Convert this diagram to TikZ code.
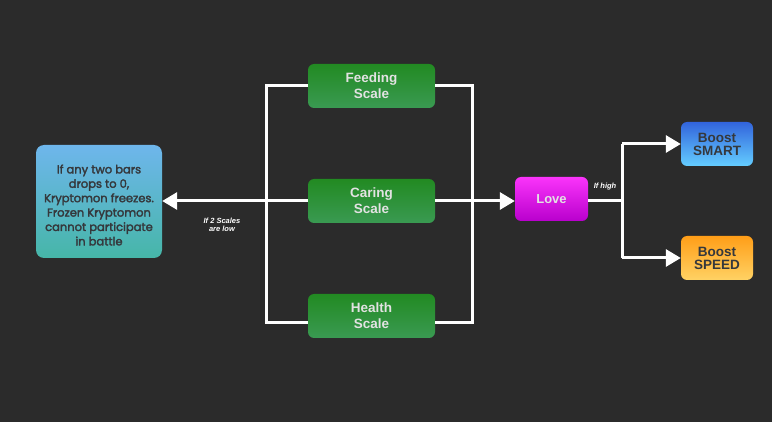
\documentclass[tikz,border=0pt]{standalone}
\usepackage{fontspec}
\setmainfont{Liberation Sans}
\newfontfamily\popfont[FakeBold=2.5]{Poppins}
\usetikzlibrary{arrows.meta}
\definecolor{bgc}{HTML}{2B2B2B}
\definecolor{txtdark}{HTML}{35383C}
\definecolor{txtlight}{HTML}{E2E2E2}
\tikzset{
  box/.style={rounded corners=6pt, minimum height=44pt, align=center, inner sep=0pt, font=\bfseries},
  greenbox/.style={box, minimum width=127pt, top color={rgb,255:red,34;green,138;blue,34}, bottom color={rgb,255:red,58;green,154;blue,82}, text=txtlight, font=\fontsize{13.5}{16}\selectfont\bfseries},
  wire/.style={draw=white, line width=3pt},
  arr/.style={wire, -{Triangle[length=15pt,width=17pt]}},
  lbl/.style={text=white, font=\fontsize{7.5}{8}\selectfont\bfseries\itshape, align=center, inner sep=0pt}
}
\begin{document}
\begin{tikzpicture}[x=1pt,y=-1pt]
\fill[bgc] (0,0) rectangle (772,422);
\useasboundingbox (0,0) rectangle (772,422);
% boxes
\node[box, rounded corners=8pt, minimum width=126pt, minimum height=113pt, top color={rgb,255:red,110;green,182;blue,236}, bottom color={rgb,255:red,70;green,182;blue,168}, text=txtdark, font=\popfont\fontsize{11.5}{14.4}\selectfont] (info) at (99,201.5) {\raisebox{-8pt}[0pt][0pt]{\begin{tabular}{@{}c@{}}If any two bars\\drops to 0,\\Kryptomon freezes.\\Frozen Kryptomon\\cannot participate\\in battle\end{tabular}}};
\node[greenbox] (feed) at (371.5,86) {Feeding\\Scale};
\node[greenbox] (care) at (371.5,201) {Caring\\Scale};
\node[greenbox] (health) at (371.5,316) {Health\\Scale};
\node[box, minimum width=73pt, top color={rgb,255:red,250;green,52;blue,250}, bottom color={rgb,255:red,185;green,0;blue,205}, text=txtlight, font=\fontsize{13}{15}\selectfont\bfseries] (love) at (551.5,199) {Love};
\node[box, minimum width=72pt, top color={rgb,255:red,50;green,100;blue,220}, bottom color={rgb,255:red,100;green,205;blue,255}, text=txtdark, font=\fontsize{13.5}{13}\selectfont\bfseries] (smart) at (717,144) {Boost\\SMART};
\node[box, minimum width=72pt, top color={rgb,255:red,255;green,158;blue,24}, bottom color={rgb,255:red,255;green,210;blue,100}, text=txtdark, font=\fontsize{13.5}{13}\selectfont\bfseries] (speed) at (717,258) {Boost\\SPEED};
% coordinates
\coordinate (lt) at (266,86);
\coordinate (lb) at (266,323);
\coordinate (rt) at (472,86);
\coordinate (rb) at (472,323);
\coordinate (fork) at (622,201);
\coordinate (forkt) at (622,144);
\coordinate (forkb) at (622,258);
% wires
\draw[wire] (feed.west |- lt) -- (lt) -- (lb) -- (health.west |- lb);
\draw[wire] (feed.east |- rt) -- (rt) -- (rb) -- (health.east |- rb);
\draw[arr] (care.west) -- (info.east |- care.west);
\draw[arr] (care.east) -- (love.west |- care.east);
\draw[wire] (love.east |- fork) -- (fork);
\draw[wire] (forkt) -- (forkb);
\draw[arr] (forkt) -- (smart.west);
\draw[arr] (forkb) -- (speed.west);
% labels
\node[lbl] (l1) at (222,225) {If 2 Scales\\are low};
\node[lbl] (l2) at (605,187) {If high};
\end{tikzpicture}
\end{document}
